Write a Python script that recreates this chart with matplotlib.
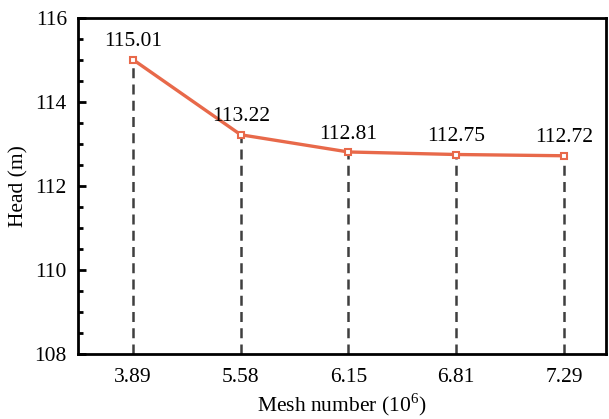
import matplotlib.pyplot as plt
from matplotlib.ticker import MultipleLocator

mesh = ['3.89', '5.58', '6.15', '6.81', '7.29']
head = [115.01, 113.22, 112.81, 112.75, 112.72]

plt.rcParams['font.family'] = 'Liberation Serif'
plt.rcParams['font.size'] = 15.5
plt.rcParams['mathtext.fontset'] = 'custom'
plt.rcParams['mathtext.rm'] = 'Liberation Serif'

fig = plt.figure(figsize=(6.09, 4.19), dpi=100)
ax = fig.add_axes([78 / 609, 1 - 354 / 419, 528 / 609, 336 / 419])

x = list(range(len(mesh)))
# dashed drop lines from the x axis up to each point
ax.vlines(x, 108, head, colors='#3f3f3f', linestyles=(0, (4, 2.5)), linewidth=1.8, zorder=1)
ax.plot(x, head, color='#e8694a', linewidth=2.4, marker='s', markersize=4.5,
        markerfacecolor='white', markeredgecolor='#e8694a', markeredgewidth=1.5, zorder=3)

for xi, h in zip(x, head):
    ax.annotate(f'{h:.2f}', (xi, h), xytext=(0, 6), textcoords='offset points',
                ha='center', va='bottom', fontsize=15.5)

ax.set_xlim(-0.51, 4.39)
ax.set_ylim(108, 116)
ax.set_xticks(x)
ax.set_xticklabels(mesh)
ax.tick_params(axis='x', length=0, pad=10, labelsize=15.5)
ax.yaxis.set_major_locator(MultipleLocator(2))
ax.yaxis.set_minor_locator(MultipleLocator(0.5))
ax.tick_params(axis='y', which='major', direction='in', length=6, width=2, pad=8, labelsize=15.5)
ax.tick_params(axis='y', which='minor', direction='in', length=3.5, width=2)

for s in ax.spines.values():
    s.set_linewidth(2)

ax.set_xlabel(r'Mesh number (10$^\mathrm{6}$)', fontsize=15.5, labelpad=3)
ax.set_ylabel('Head (m)', fontsize=15.5, labelpad=4)

fig.savefig('out.png', dpi=100)
